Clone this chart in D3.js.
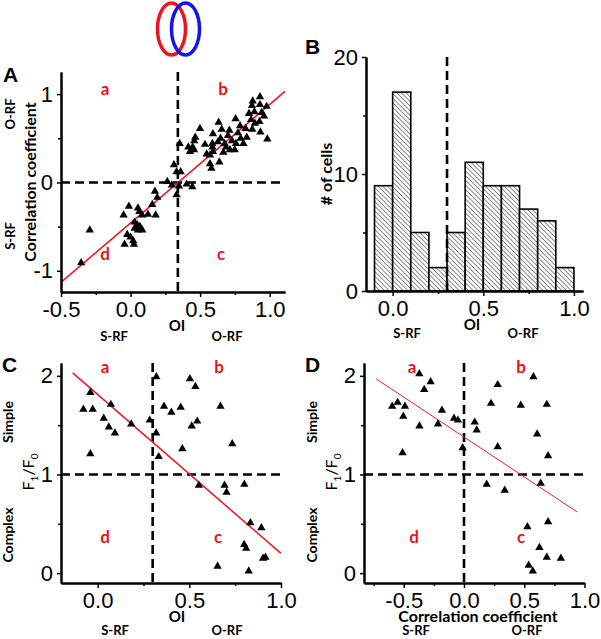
<!DOCTYPE html>
<html>
<head>
<meta charset="utf-8">
<script src="https://cdn.jsdelivr.net/npm/d3@7"></script>
<style>
  body { margin: 0; background: #fff; }
  svg { display: block; }
  .tick text { font-family: "Liberation Sans", Arial, sans-serif; font-size: 22px; fill: #000; }
  .domain { stroke: #000; stroke-width: 2; }
  .tick line { stroke: #000; stroke-width: 1.5; }
  .lbl { font-family: Lato, "Open Sans", sans-serif; font-weight: 700; fill: #000; }
  .quad { font-family: Lato, "Open Sans", sans-serif; font-weight: 700; fill: #e8141b; font-size: 17px; }
  .panel { font-family: "Liberation Sans", Arial, sans-serif; font-weight: 700; font-size: 21px; }
</style>
</head>
<body>
<svg width="601" height="639"></svg>
<script>
// ---- données ----
// A : OI vs coefficient de corrélation
const scatterA = [
  [0.93,0.97],[0.878,0.92],[0.873,0.87],[0.93,0.88],[0.978,0.86],[0.851,0.78],[0.89,0.80],[0.942,0.79],
  [0.959,0.75],[0.926,0.69],[0.894,0.67],[0.866,0.71],[0.755,0.72],[0.787,0.64],[0.827,0.61],[0.875,0.60],
  [0.933,0.57],[0.983,0.49],[0.633,0.68],[0.655,0.60],[0.71,0.59],[0.772,0.56],[0.499,0.61],[0.592,0.55],
  [0.647,0.50],[0.70,0.53],[0.729,0.47],[0.791,0.50],[0.835,0.51],[0.811,0.44],[0.758,0.44],[0.465,0.51],
  [0.458,0.47],[0.535,0.43],[0.588,0.44],[0.628,0.46],[0.676,0.44],[0.686,0.40],[0.714,0.37],[0.748,0.37],
  [0.415,0.40],[0.446,0.40],[0.427,0.35],[0.456,0.37],[0.588,0.40],[0.592,0.35],[0.667,0.34],[0.547,0.32],
  [0.571,0.31],[0.638,0.23],[0.571,0.21],[0.581,0.16],[0.353,0.44],[0.312,0.20],[0.331,0.12],[0.36,0.12],
  [0.264,0.01],[0.297,-0.03],[0.348,-0.04],[0.403,-0.02],[0.444,-0.05],[0.331,-0.14],
  [0.175,-0.10],[0.192,-0.17],[0.156,-0.25],[-0.012,-0.27],[0.053,-0.29],[-0.05,-0.37],[0.063,-0.33],
  [0.125,-0.36],[0.18,-0.37],[0.084,-0.37],[0.029,-0.45],[0.048,-0.48],[0.067,-0.50],[0.029,-0.52],
  [0.084,-0.54],[0.053,-0.54],[-0.293,-0.54],[-0.024,-0.59],[0.0,-0.62],[0.019,-0.66],[-0.043,-0.70],
  [0.024,-0.70],[-0.355,-0.91]
];
const fitA = [[-0.5, -1.13], [1.11, 1.03]];

// B : histogramme OI
const histEdges = [-0.1, 0.0, 0.1, 0.2, 0.3, 0.4, 0.5, 0.6, 0.7, 0.8, 0.9, 1.0];
const histCounts = [9, 17, 5, 2, 5, 11, 9, 9, 7, 6, 2];

// C : OI vs F1/F0
const scatterC = [
  [-0.04,1.83],[-0.078,1.66],[-0.027,1.66],[0.072,1.71],[0.033,1.57],[0.061,1.48],[0.094,1.42],[0.183,1.51],
  [-0.04,1.21],[0.284,1.55],[0.32,1.99],[0.319,1.42],[0.333,1.18],[0.362,1.69],[0.402,1.63],[0.453,1.68],
  [0.503,1.97],[0.533,1.89],[0.543,1.54],[0.513,1.49],[0.462,1.26],[0.67,1.69],[0.734,1.31],
  [0.552,0.89],[0.692,0.89],[0.703,0.82],[0.80,0.90],[0.833,0.51],[0.893,0.46],[0.799,0.29],[0.81,0.25],
  [0.654,0.07],[0.824,0.02],[0.902,0.15],[0.915,0.16]
];
const fitC = [[-0.136, 2.03], [1.0, 0.2]];

// D : coefficient de corrélation vs F1/F0
const scatterD = [
  [-0.371,2.02],[-0.277,1.94],[-0.33,1.86],[-0.596,1.69],[-0.551,1.73],[-0.49,1.69],[-0.504,1.59],[-0.51,1.22],
  [-0.37,1.49],[-0.216,1.51],[-0.183,1.65],[-0.083,1.57],[-0.05,1.55],[-0.011,1.27],[0.089,1.53],[0.105,1.45],
  [0.28,1.28],[0.28,1.91],[0.224,1.72],[0.471,1.70],[0.576,1.99],[0.687,1.71],[0.607,1.41],[0.698,1.19],
  [0.188,0.90],[0.338,0.84],[0.637,0.91],[0.526,0.47],[0.698,0.52],[0.626,0.26],[0.687,0.16],[0.804,0.15],
  [0.537,0.08],[0.571,0.02]
];
const fitD = [[-0.73, 1.97], [0.94, 0.62]];

// ---- svg ----
const svg = d3.select("svg");
const tri = d3.symbol(d3.symbolTriangle, 30);

// motif hachuré (barres de l'histogramme)
const pat = svg.append("defs").append("pattern")
    .attr("id", "hatch")
    .attr("patternUnits", "userSpaceOnUse")
    .attr("width", 3.3).attr("height", 3.3)
    .attr("patternTransform", "rotate(-45)");
pat.append("rect").attr("width", 3.3).attr("height", 3.3).attr("fill", "#fff");
pat.append("line").attr("x1", 0).attr("y1", 0).attr("x2", 0).attr("y2", 3.3)
    .attr("stroke", "#333").attr("stroke-width", 1.1);

// les deux ellipses en haut
svg.append("ellipse").attr("cx", 171.5).attr("cy", 29).attr("rx", 14).attr("ry", 26)
    .attr("fill", "none").attr("stroke", "#f0141e").attr("stroke-width", 3.5);
svg.append("ellipse").attr("cx", 185.5).attr("cy", 29).attr("rx", 14).attr("ry", 26)
    .attr("fill", "none").attr("stroke", "#1414f0").attr("stroke-width", 3.5);

const fmt1 = d => d.toFixed(1);
const fmt0 = d => String(d);

function axes(g, x, y, o) {
    const yb = y.range()[0], xl = x.range()[0];
    g.append("g").attr("transform", `translate(0,${yb})`)
        .call(d3.axisBottom(x).tickValues(o.xMinor).tickSize(3).tickSizeOuter(0).tickFormat(""));
    g.append("g").attr("transform", `translate(0,${yb})`)
        .call(d3.axisBottom(x).tickValues(o.xMajor).tickSize(5).tickSizeOuter(0).tickPadding(4).tickFormat(fmt1));
    g.append("g").attr("transform", `translate(${xl},0)`)
        .call(d3.axisLeft(y).tickValues(o.yMinor).tickSize(3).tickSizeOuter(0).tickFormat(""));
    g.append("g").attr("transform", `translate(${xl},0)`)
        .call(d3.axisLeft(y).tickValues(o.yMajor).tickSize(4).tickSizeOuter(0).tickPadding(4).tickFormat(fmt0));
}

function dashed(g, x1, y1, x2, y2) {
    g.append("line").attr("x1", x1).attr("y1", y1).attr("x2", x2).attr("y2", y2)
        .attr("stroke", "#000").attr("stroke-width", 2.6).attr("stroke-dasharray", "9,5");
}

function points(g, x, y, data) {
    g.append("g").selectAll("path").data(data).join("path")
        .attr("d", tri)
        .attr("transform", d => `translate(${x(d[0])},${y(d[1])})`)
        .attr("fill", "#000");
}

function fit(g, x, y, data, w) {
    g.append("path").datum(data)
        .attr("d", d3.line().x(d => x(d[0])).y(d => y(d[1])))
        .attr("stroke", "#ee1c24").attr("stroke-width", w).attr("fill", "none");
}

function text(g, s, px, py, cls, size, anchor = "middle", rot = 0) {
    return g.append("text").attr("class", cls)
        .attr("transform", `translate(${px},${py}) rotate(${rot})`)
        .attr("text-anchor", anchor).style("font-size", size + "px").text(s);
}

function quads(g, pos) {
    ["a", "b", "c", "d"].forEach((q, i) => text(g, q, pos[i][0], pos[i][1], "quad", 17));
}

// ---------- A ----------
{
    const g = svg.append("g");
    const x = d3.scaleLinear([-0.5, 1.11], [61, 285]);
    const y = d3.scaleLinear([-1.24, 1.25], [292, 72]);
    dashed(g, x(0.34), y.range()[1], x(0.34), y.range()[0]);
    dashed(g, x(-0.5), y(0), x(1.08), y(0));
    fit(g, x, y, fitA, 1.6);
    points(g, x, y, scatterA);
    axes(g, x, y, { xMajor: [-0.5, 0, 0.5, 1], xMinor: [-0.25, 0.25, 0.75], yMajor: [-1, 0, 1], yMinor: [-0.5, 0.5] });
    quads(g, [[105, 95], [223, 95], [221, 260], [105, 260]]);
    text(g, "A", 3, 82, "panel", 21, "start");
    text(g, "Correlation coefficient", 36, 182, "lbl", 16, "middle", -90);
    text(g, "O-RF", 15, 114, "lbl", 13, "middle", -90);
    text(g, "S-RF", 15, 236, "lbl", 13, "middle", -90);
    text(g, "OI", 177, 331, "lbl", 15);
    text(g, "S-RF", 114, 341, "lbl", 13);
    text(g, "O-RF", 227, 341, "lbl", 13);
}

// ---------- B ----------
{
    const g = svg.append("g");
    const x = d3.scaleLinear([-0.147, 1.05], [366, 583]);
    const y = d3.scaleLinear([0, 20], [291, 57]);
    g.append("g").selectAll("rect").data(histCounts).join("rect")
        .attr("x", (d, i) => x(histEdges[i]))
        .attr("width", (d, i) => x(histEdges[i + 1]) - x(histEdges[i]))
        .attr("y", d => y(d))
        .attr("height", d => y(0) - y(d))
        .attr("fill", "url(#hatch)").attr("stroke", "#000").attr("stroke-width", 1.6);
    dashed(g, x(0.3), y(20), x(0.3), y(0));
    axes(g, x, y, { xMajor: [0, 0.5, 1], xMinor: [0.25, 0.75], yMajor: [0, 10, 20], yMinor: [5, 15] });
    text(g, "B", 305, 54, "panel", 21, "start");
    text(g, "# of cells", 332, 174, "lbl", 16, "middle", -90);
    text(g, "OI", 472, 330, "lbl", 15);
    text(g, "S-RF", 407, 338, "lbl", 13);
    text(g, "O-RF", 523, 338, "lbl", 13);
}

// F1/F0 avec indices
function f1f0(g, px, py) {
    const t = g.append("text").attr("class", "lbl")
        .attr("transform", `translate(${px},${py}) rotate(-90)`)
        .attr("text-anchor", "middle").style("font-size", "16px").style("font-weight", 400);
    t.append("tspan").text("F");
    t.append("tspan").attr("dy", 4).style("font-size", "10px").text("1");
    t.append("tspan").attr("dy", -4).text("/F");
    t.append("tspan").attr("dy", 4).style("font-size", "10px").text("0");
}

// ---------- C ----------
{
    const g = svg.append("g");
    const x = d3.scaleLinear([-0.2, 1.0], [61, 281]);
    const y = d3.scaleLinear([-0.1, 2.13], [583, 363]);
    dashed(g, x(0.3), y.range()[1], x(0.3), y.range()[0]);
    dashed(g, x(-0.2), y(1), x(1.022), y(1));
    fit(g, x, y, fitC, 1.6);
    points(g, x, y, scatterC);
    axes(g, x, y, { xMajor: [0, 0.5, 1], xMinor: [0.25, 0.75], yMajor: [0, 1, 2], yMinor: [0.5, 1.5] });
    quads(g, [[105, 373], [219, 373], [218, 543], [105, 543]]);
    text(g, "C", 2, 372, "panel", 21, "start");
    f1f0(g, 34, 472);
    text(g, "Simple", 13, 422, "lbl", 14, "middle", -90);
    text(g, "Complex", 13, 535, "lbl", 14, "middle", -90);
    text(g, "OI", 177, 622, "lbl", 15);
    text(g, "S-RF", 115, 635, "lbl", 13);
    text(g, "O-RF", 227, 635, "lbl", 13);
}

// ---------- D ----------
{
    const g = svg.append("g");
    const x = d3.scaleLinear([-0.83, 1.0], [364, 584.5]);
    const y = d3.scaleLinear([-0.1, 2.13], [583, 363]);
    dashed(g, x(0), y.range()[1], x(0), y.range()[0]);
    dashed(g, x(-0.83), y(1), x(1.02), y(1));
    fit(g, x, y, fitD, 1);
    points(g, x, y, scatterD);
    axes(g, x, y, { xMajor: [-0.5, 0, 0.5, 1], xMinor: [-0.75, -0.25, 0.25, 0.75], yMajor: [0, 1, 2], yMinor: [0.5, 1.5] });
    quads(g, [[412, 373], [521, 373], [521, 543], [414, 543]]);
    text(g, "D", 305, 372, "panel", 21, "start");
    f1f0(g, 337, 472);
    text(g, "Simple", 317, 422, "lbl", 14, "middle", -90);
    text(g, "Complex", 317, 535, "lbl", 14, "middle", -90);
    text(g, "Correlation coefficient", 478, 622, "lbl", 16);
    text(g, "S-RF", 416, 635, "lbl", 13);
    text(g, "O-RF", 527, 635, "lbl", 13);
}
</script>
</body>
</html>
